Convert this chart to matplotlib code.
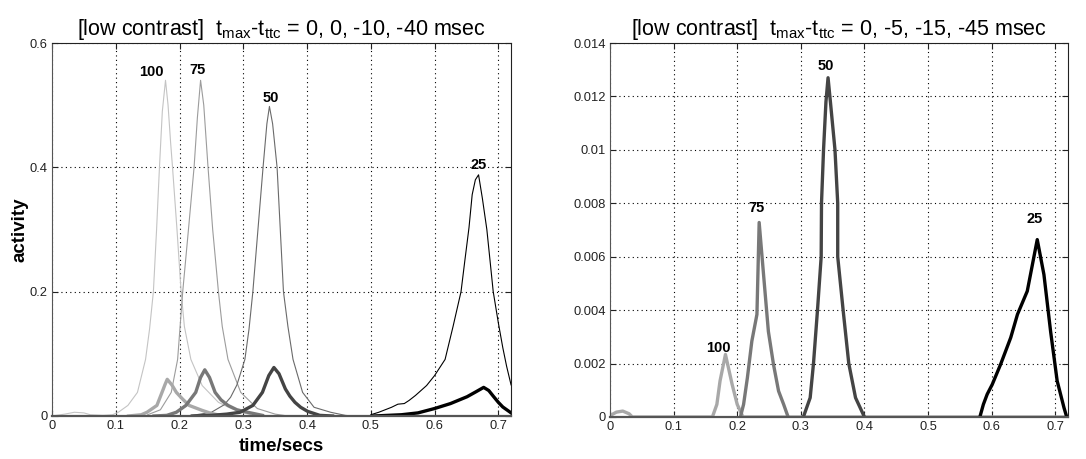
import matplotlib
matplotlib.use("Agg")
import matplotlib.pyplot as plt

plt.rcParams['font.family'] = ['Liberation Sans', 'DejaVu Sans']
plt.rcParams['mathtext.fontset'] = 'custom'
plt.rcParams['mathtext.rm'] = 'Liberation Sans'

# ---------------- Left panel data (thin = response, thick = second signal) -------------
L_thin100_t = [0.0, 0.02, 0.035, 0.05, 0.06, 0.08, 0.095, 0.104, 0.119, 0.134, 0.1467, 0.153, 0.159, 0.164,
               0.1685, 0.173, 0.178, 0.182, 0.186, 0.189, 0.196, 0.2025, 0.2076, 0.2178, 0.2355, 0.261, 0.281, 0.3, 0.32]
L_thin100_v = [0.0, 0.003, 0.006, 0.005, 0.002, 0.001, 0.002, 0.006, 0.017, 0.038, 0.091, 0.14, 0.2, 0.3,
               0.4, 0.49, 0.54, 0.5, 0.44, 0.4, 0.3, 0.2, 0.144, 0.091, 0.049, 0.022, 0.012, 0.005, 0.0]

L_thin75_t = [0.15, 0.17, 0.187, 0.197, 0.205, 0.214, 0.2228, 0.228, 0.233, 0.238, 0.2447, 0.252, 0.261,
              0.267, 0.276, 0.296, 0.322, 0.35, 0.37]
L_thin75_v = [0.002, 0.01, 0.038, 0.091, 0.2, 0.3, 0.4, 0.48, 0.54, 0.5, 0.4, 0.3, 0.2,
              0.144, 0.091, 0.038, 0.012, 0.003, 0.0]

L_thin50_t = [0.22, 0.25, 0.27, 0.28, 0.29, 0.3025, 0.309, 0.315, 0.323, 0.331, 0.337, 0.341, 0.346, 0.353,
              0.358, 0.363, 0.37, 0.378, 0.393, 0.411, 0.437, 0.46, 0.47]
L_thin50_v = [0.001, 0.006, 0.018, 0.03, 0.05, 0.091, 0.14, 0.2, 0.3, 0.4, 0.47, 0.498, 0.47, 0.4,
              0.3, 0.2, 0.144, 0.091, 0.038, 0.014, 0.006, 0.001, 0.0]

L_thin25_t = [0.5, 0.5125, 0.5325, 0.5425, 0.5525, 0.56, 0.57, 0.5875, 0.6, 0.6165, 0.629, 0.6415, 0.6475,
              0.654, 0.659, 0.664, 0.669, 0.675, 0.682, 0.687, 0.692, 0.7, 0.707, 0.713, 0.72]
L_thin25_v = [0.002, 0.006, 0.014, 0.019, 0.02, 0.025, 0.033, 0.049, 0.065, 0.091, 0.144, 0.2, 0.25,
              0.303, 0.356, 0.38, 0.388, 0.35, 0.3, 0.25, 0.2, 0.15, 0.11, 0.08, 0.05]

L_thick100_t = [0.12, 0.14, 0.149, 0.1645, 0.1746, 0.177, 0.1807, 0.188, 0.195, 0.205, 0.215, 0.2355, 0.25, 0.27]
L_thick100_v = [0.0, 0.002, 0.006, 0.017, 0.0435, 0.05, 0.059, 0.05, 0.038, 0.027, 0.017, 0.009, 0.004, 0.0]

L_thick75_t = [0.16, 0.18, 0.195, 0.21, 0.2254, 0.233, 0.2396, 0.247, 0.2558, 0.265, 0.276, 0.29, 0.3066, 0.33]
L_thick75_v = [0.0, 0.001, 0.006, 0.017, 0.038, 0.062, 0.0743, 0.062, 0.038, 0.026, 0.017, 0.01, 0.006, 0.001]

L_thick50_t = [0.22, 0.25, 0.274, 0.295, 0.315, 0.33, 0.34, 0.348, 0.356, 0.366, 0.373, 0.381, 0.39, 0.401, 0.42, 0.44]
L_thick50_v = [0.0, 0.001, 0.003, 0.006, 0.017, 0.038, 0.065, 0.078, 0.068, 0.0435, 0.032, 0.022, 0.014, 0.0074, 0.001, 0.0]

L_thick25_t = [0.505, 0.548, 0.574, 0.6, 0.625, 0.651, 0.665, 0.677, 0.685, 0.692, 0.7, 0.707, 0.718, 0.72]
L_thick25_v = [0.0, 0.002, 0.005, 0.012, 0.02, 0.031, 0.039, 0.046, 0.041, 0.032, 0.022, 0.0145, 0.0065, 0.005]

# ---------------- Right panel data -------------
R100_t = [0.0, 0.01, 0.02, 0.03, 0.035, 0.15, 0.161, 0.168, 0.173, 0.1815, 0.192, 0.2, 0.209, 0.72]
R100_v = [0.00005, 0.00018, 0.00022, 0.00012, 0.0, 0.0, 0.0, 0.00047, 0.00135, 0.00234, 0.00122, 0.00047, 0.0, 0.0]

R75_t = [0.205, 0.21, 0.216, 0.223, 0.231, 0.2345, 0.2414, 0.249, 0.257, 0.265, 0.273, 0.28]
R75_v = [0.0, 0.00047, 0.00147, 0.00284, 0.00384, 0.00728, 0.00533, 0.0032, 0.00197, 0.00097, 0.00047, 0.0]

R50_t = [0.304, 0.3147, 0.3199, 0.3262, 0.332, 0.3325, 0.3357, 0.3395, 0.3428, 0.3465, 0.3537, 0.358, 0.358,
         0.3665, 0.3754, 0.386, 0.4]
R50_v = [0.0, 0.00072, 0.002, 0.004, 0.006, 0.008, 0.01, 0.0118, 0.0127, 0.0118, 0.01, 0.008, 0.006,
         0.004, 0.002, 0.00072, 0.0]

R25_t = [0.5815, 0.587, 0.593, 0.601, 0.6141, 0.630, 0.6406, 0.656, 0.6717, 0.6822, 0.6927, 0.703, 0.7137, 0.718]
R25_v = [0.0, 0.00047, 0.00085, 0.00122, 0.00197, 0.00297, 0.00384, 0.00471, 0.00664, 0.00533, 0.0032, 0.00135, 0.00035, 0.0]

xticks = [0, 0.1, 0.2, 0.3, 0.4, 0.5, 0.6, 0.7]
xticklabels = ['0', '0.1', '0.2', '0.3', '0.4', '0.5', '0.6', '0.7']
L_yticks = [0, 0.2, 0.4, 0.6]
L_yticklabels = ['0', '0.2', '0.4', '0.6']
R_yticks = [0, 0.002, 0.004, 0.006, 0.008, 0.01, 0.012, 0.014]
R_yticklabels = ['0', '0.002', '0.004', '0.006', '0.008', '0.01', '0.012', '0.014']

L_labels = ['100', '75', '50', '25']
L_label_x = [0.156, 0.228, 0.343, 0.669]
L_label_y = [0.554, 0.557, 0.512, 0.404]
R_labels = ['100', '75', '50', '25']
R_label_x = [0.170, 0.230, 0.340, 0.668]
R_label_y = [0.0026, 0.00784, 0.01315, 0.0074]

fig = plt.figure(figsize=(10.86, 4.59), dpi=100)
axL = fig.add_axes([0.0479, 0.0937, 0.4227, 0.8126])
axR = fig.add_axes([0.5617, 0.0916, 0.4217, 0.8147])

thin_cols = ['#c4c4c4', '#9c9c9c', '#6a6a6a', '#000000']
thick_cols = ['#a8a8a8', '#787878', '#444444', '#000000']

for t, v, c in zip([L_thin100_t, L_thin75_t, L_thin50_t, L_thin25_t],
                   [L_thin100_v, L_thin75_v, L_thin50_v, L_thin25_v], thin_cols):
    axL.plot(t, v, color=c, lw=0.8)
for t, v, c in zip([L_thick100_t, L_thick75_t, L_thick50_t, L_thick25_t],
                   [L_thick100_v, L_thick75_v, L_thick50_v, L_thick25_v], thick_cols):
    axL.plot(t, v, color=c, lw=2.4)
for t, v, c in zip([R100_t, R75_t, R50_t, R25_t], [R100_v, R75_v, R50_v, R25_v], thick_cols):
    axR.plot(t, v, color=c, lw=2.4)

for lab, x, y in zip(L_labels, L_label_x, L_label_y):
    axL.text(x, y, lab, ha='center', va='center', fontsize=10.5, fontweight='bold')
for lab, x, y in zip(R_labels, R_label_x, R_label_y):
    axR.text(x, y, lab, ha='center', va='center', fontsize=10.5, fontweight='bold')

for ax, yt, ytl, ylim in [(axL, L_yticks, L_yticklabels, 0.6), (axR, R_yticks, R_yticklabels, 0.014)]:
    ax.set_xlim(0, 0.72)
    ax.set_ylim(0, ylim)
    ax.set_xticks(xticks)
    ax.set_xticklabels(xticklabels)
    ax.set_yticks(yt)
    ax.set_yticklabels(ytl)
    ax.tick_params(direction='in', top=True, right=True, labelsize=9.3, length=4, width=0.8, pad=3,
                   colors='#222222')
    ax.grid(True, linestyle=(0, (1, 3)), color='black', lw=0.8)
    for s in ax.spines.values():
        s.set_color('#222222')
        s.set_linewidth(0.8)
    ax.spines['bottom'].set_linewidth(1.6)
    ax.spines['bottom'].set_color('#555555')
    ax.spines['left'].set_color('#555555')

axL.set_title(r'[low contrast]  t$_\mathrm{max}$-t$_\mathrm{ttc}$ = 0, 0, -10, -40 msec', fontsize=15.5, pad=6)
axR.set_title(r'[low contrast]  t$_\mathrm{max}$-t$_\mathrm{ttc}$ = 0, -5, -15, -45 msec', fontsize=15.5, pad=6)
axL.set_xlabel('time/secs', fontsize=13.5, fontweight='bold', labelpad=4)
axL.set_ylabel('activity', fontsize=13.5, fontweight='bold', labelpad=1)

fig.savefig('out.png', dpi=100)
